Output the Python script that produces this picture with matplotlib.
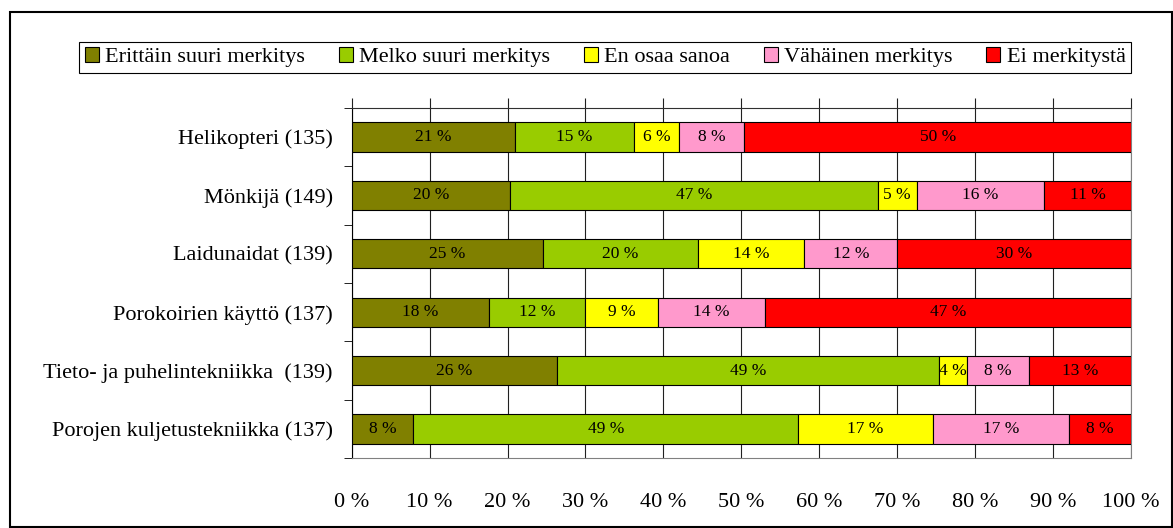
import matplotlib
matplotlib.use("Agg")
import matplotlib.pyplot as plt
import numpy as np
from matplotlib.patches import Rectangle

plt.rcParams['font.family'] = ['Liberation Serif', 'DejaVu Serif']

categories = ["Helikopteri (135)", "Mönkijä (149)", "Laidunaidat (139)",
              "Porokoirien käyttö (137)", "Tieto- ja puhelintekniikka  (139)",
              "Porojen kuljetustekniikka (137)"]
series_names = ["Erittäin suuri merkitys", "Melko suuri merkitys", "En osaa sanoa",
                "Vähäinen merkitys", "Ei merkitystä"]
# shares in percent, one list per series (rows follow categories)
erittain = [21.0, 20.3, 24.6, 17.6, 26.4, 7.9]
melko = [15.2, 47.2, 19.8, 12.4, 49.0, 49.4]
en_osaa = [5.8, 5.0, 13.7, 9.3, 3.6, 17.3]
vahainen = [8.4, 16.4, 11.9, 13.8, 7.9, 17.4]
ei = [49.6, 11.1, 30.0, 46.9, 13.1, 8.0]
colors = ["#808000", "#99CC00", "#FFFF00", "#FF99CC", "#FF0000"]
xticks = np.arange(0, 101, 10)

series = [erittain, melko, en_osaa, vahainen, ei]

fig = plt.figure(figsize=(11.73, 5.28), dpi=100)
ax = fig.add_axes([0.2998, 0.132, 0.6644, 0.664])

y = np.arange(len(categories))
left = np.zeros(len(categories))
for name, vals, col in zip(series_names, series, colors):
    vals = np.array(vals)
    bars = ax.barh(y, vals, left=left, height=0.5, color=col, edgecolor="black",
                   linewidth=0.8, label=name, zorder=3)
    for b, v in zip(bars, vals):
        ax.text(b.get_x() + b.get_width() / 2, b.get_y() + b.get_height() / 2,
                "%.0f %%" % v, ha="center", va="center", fontsize=12.5, zorder=4)
    left += vals

ax.set_xlim(0, 100)
ax.set_ylim(len(categories) - 0.5, -0.5)
ax.set_xticks(xticks)
ax.set_xticklabels(["%d %%" % t for t in xticks], fontsize=16)
ax.xaxis.grid(True, color="#202020", linewidth=0.8, zorder=0)
ax.tick_params(axis="x", top=True, bottom=False, labeltop=False, labelbottom=True,
               direction="out", length=7, pad=18, color="#202020")

ax.set_yticks(y)
ax.set_yticklabels(categories, fontsize=16)
ax.set_yticks(np.arange(-0.5, len(categories), 1), minor=True)
ax.tick_params(axis="y", which="major", length=0, pad=13.5)
ax.tick_params(axis="y", which="minor", length=6, direction="out", color="black")

ax.spines["left"].set_color("black")
ax.spines["top"].set_color("#303030")
ax.spines["right"].set_color("#808080")
ax.spines["bottom"].set_color("#808080")
ax.set_axisbelow(True)

leg = fig.legend(loc="center", bbox_to_anchor=(0.516, 0.8915), ncol=5, fontsize=16,
                 frameon=True, fancybox=False, edgecolor="black", framealpha=1,
                 handlelength=0.63, handleheight=0.63, handletextpad=0.3,
                 columnspacing=1.5, borderpad=0.25)
leg.get_frame().set_linewidth(0.8)
for h in leg.legend_handles:
    h.set_edgecolor("black")
    h.set_linewidth(0.8)

fig.patches.append(Rectangle((10 / 1173, 1.5 / 528), 1161.5 / 1173, 514.5 / 528,
                             transform=fig.transFigure, fill=False,
                             edgecolor="black", linewidth=1.5))

fig.savefig("out.png", dpi=100)
